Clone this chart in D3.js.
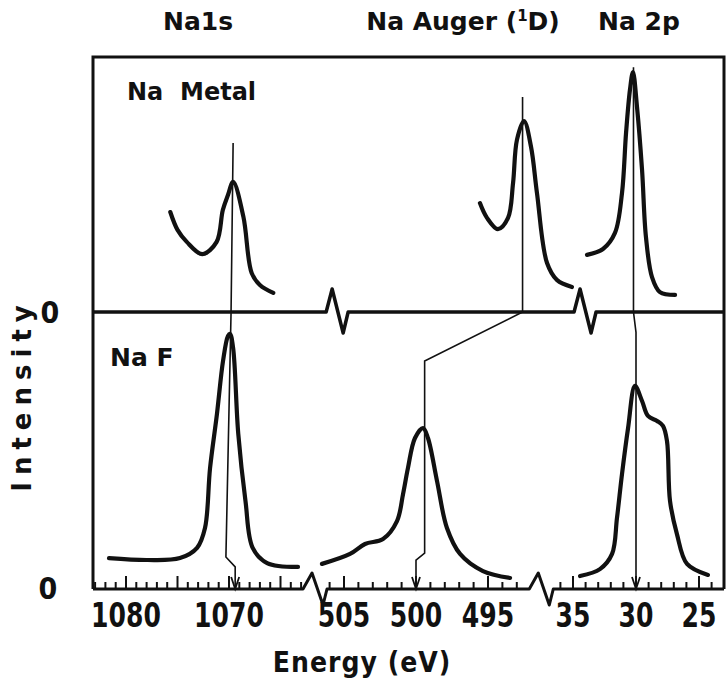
<!DOCTYPE html>
<html>
<head>
<meta charset="utf-8">
<script src="https://cdn.jsdelivr.net/npm/d3@7"></script>
<style>
  body { margin: 0; background: #fff; }
  text { font-family: "DejaVu Sans", sans-serif; font-weight: bold; fill: #111; }
  .cond { font-family: "DejaVu Sans Condensed", "DejaVu Sans", sans-serif; }
</style>
</head>
<body>
<div id="chart"></div>
<script>

/* data: [energy eV, relative intensity] */
const metal1s = [[1075.7,0.392],[1075.0,0.322],[1074.1,0.275],[1072.6,0.227],[1071.2,0.275],[1070.6,0.40],
  [1070.1,0.459],[1069.6,0.51],[1068.6,0.373],[1067.8,0.153],[1067.0,0.106],[1065.7,0.075]];
const metalAuger = [[495.56,0.427],[495.07,0.369],[494.31,0.325],[493.61,0.369],[493.26,0.506],[492.99,0.675],
  [492.5,0.749],[492.01,0.647],[491.6,0.467],[490.9,0.192],[490.2,0.125],[489.17,0.098]];
const metal2p = [[33.89,0.224],[32.62,0.247],[31.67,0.31],[31.11,0.467],[30.79,0.702],[30.48,0.871],
  [30.24,0.941],[29.92,0.804],[29.52,0.557],[29.21,0.294],[28.73,0.137],[28.1,0.078],[26.9,0.067]];

const naf1s = [[1081.65,0.112],[1077.96,0.105],[1074.76,0.112],[1073.1,0.149],[1072.33,0.221],[1071.84,0.438],
  [1071.17,0.634],[1070.58,0.826],[1070.1,0.917],[1069.9,0.924],[1069.6,0.873],[1069.1,0.562],[1068.4,0.319],
  [1067.7,0.149],[1066.3,0.094],[1063.3,0.08]];
const nafAuger = [[506.53,0.091],[504.58,0.127],[503.54,0.163],[502.29,0.181],[501.32,0.246],[500.9,0.344],
  [500.56,0.438],[500.07,0.547],[499.51,0.583],[499.17,0.547],[498.54,0.391],[497.85,0.221],[496.94,0.127],
  [495.35,0.065],[493.47,0.04]];
const naf2p = [[34.44,0.047],[32.86,0.072],[31.9,0.127],[31.51,0.257],[31.11,0.417],[30.63,0.583],[30.08,0.736],
  [29.52,0.681],[29.05,0.627],[28.33,0.609],[27.86,0.591],[27.54,0.536],[27.3,0.319],[26.75,0.199],
  [25.95,0.091],[24.29,0.051]];

/* tick labels per axis segment */
const seg1Labels = [1080, 1070];
const seg2Labels = [505, 500, 495];
const seg3Labels = [35, 30, 25];
const seg1Ticks = d3.range(1083, 1062, -1);
const seg2Ticks = d3.range(506, 492, -1);
const seg3Ticks = d3.range(36, 23, -1);

/* axis breaks, as energy in the segment on their left */
const lowerBreaks = [[0, 1061.65], [1, 491.3]];
const upperBreaks = [[0, 1059.5], [1, 488.26]];

/* peak markers: [segment, energy, panel, intensity] */
const marker1s = [[0,1069.6,"up",0.663],[0,1069.8,"up",0],[0,1070.3,"lo",0.116],[0,1069.4,"lo",0.08],[0,1069.4,"lo",0]];
const markerAuger = [[1,492.6,"up",0.843],[1,492.6,"up",0],[1,499.4,"lo",0.826],[1,499.4,"lo",0.13],[1,500.0,"lo",0.105],[1,500.0,"lo",0]];
const marker2p = [[2,30.2,"up",0.96],[2,30.2,"up",0],[2,30.0,"lo",0.93],[2,30.0,"lo",0]];

const width = 728;
const height = 682;
const frame = {left: 93, right: 724, top: 57, mid: 312, bottom: 589};

const svg = d3.select("#chart")
  .append("svg")
  .attr("width", width)
  .attr("height", height);

/* scales: one per broken segment, one per panel */
const xSeg = [
  d3.scaleLinear().domain([1080, 1070]).range([126, 229]),
  d3.scaleLinear().domain([500, 495]).range([416, 488]),
  d3.scaleLinear().domain([30, 25]).range([636, 699])
];
const yUp = d3.scaleLinear().domain([0, 1]).range([frame.mid, frame.top]);
const yLo = d3.scaleLinear().domain([0, 1]).range([frame.bottom, frame.mid + 1]);

/* frame */
svg.append("path")
  .attr("d", `M${frame.left},${frame.bottom} V${frame.top} H${frame.right} V${frame.bottom}`)
  .attr("fill", "none").attr("stroke", "#111").attr("stroke-width", 3);

/* broken horizontal lines */
function brokenLine(y, breaks, shape) {
  const pts = [[frame.left, y]];
  breaks.forEach(function(b) {
    const bx = xSeg[b[0]](b[1]);
    shape.forEach(function(s) { pts.push([bx + s[0], y + s[1]]); });
  });
  pts.push([frame.right, y]);
  return d3.line()(pts);
}
svg.append("path")
  .attr("d", brokenLine(frame.mid, upperBreaks, [[-11,0],[-5,-23],[6,21],[11,0]]))
  .attr("fill", "none").attr("stroke", "#111").attr("stroke-width", 3.5).attr("stroke-linejoin", "round");
svg.append("path")
  .attr("d", brokenLine(frame.bottom, lowerBreaks, [[-12,0],[-3,-16],[8,16],[12,0]]))
  .attr("fill", "none").attr("stroke", "#111").attr("stroke-width", 3).attr("stroke-linejoin", "round");

/* ticks */
[seg1Ticks, seg2Ticks, seg3Ticks].forEach(function(ticks, i) {
  svg.selectAll(null)
    .data(ticks)
    .enter()
    .append("line")
    .attr("x1", d => xSeg[i](d)).attr("x2", d => xSeg[i](d))
    .attr("y1", frame.bottom)
    .attr("y2", d => d % 5 === 0 ? frame.bottom - 13 : frame.bottom - 7)
    .attr("stroke", "#111").attr("stroke-width", 2);
});

/* tick labels, tall and narrow like the hand lettering */
[seg1Labels, seg2Labels, seg3Labels].forEach(function(labels, i) {
  svg.selectAll(null)
    .data(labels)
    .enter()
    .append("text")
    .attr("class", "cond")
    .attr("transform", d => `translate(${xSeg[i](d)},627) scale(0.82,1)`)
    .attr("text-anchor", "middle")
    .attr("font-size", 34)
    .text(d => d);
});

/* spectra */
const panels = {up: yUp, lo: yLo};
const spectra = [
  [metal1s, 0, "up"], [metalAuger, 1, "up"], [metal2p, 2, "up"],
  [naf1s, 0, "lo"], [nafAuger, 1, "lo"], [naf2p, 2, "lo"]
];
spectra.forEach(function(s) {
  const line = d3.line()
    .x(d => xSeg[s[1]](d[0]))
    .y(d => panels[s[2]](d[1]))
    .curve(d3.curveCatmullRom.alpha(0.5));
  svg.append("path")
    .attr("d", line(s[0]))
    .attr("fill", "none").attr("stroke", "#111")
    .attr("stroke-width", 4.2).attr("stroke-linecap", "round").attr("stroke-linejoin", "round");
});

/* marker lines with arrow at the axis */
[marker1s, markerAuger, marker2p].forEach(function(m) {
  const pts = m.map(d => [xSeg[d[0]](d[1]), panels[d[2]](d[3])]);
  svg.append("path")
    .attr("d", d3.line()(pts))
    .attr("fill", "none").attr("stroke", "#111").attr("stroke-width", 1.6);
  const tip = pts[pts.length - 1];
  svg.append("path")
    .attr("d", `M${tip[0] - 4},${tip[1] - 12} L${tip[0]},${tip[1]} L${tip[0] + 4},${tip[1] - 12}`)
    .attr("fill", "none").attr("stroke", "#111").attr("stroke-width", 1.8);
});

/* titles and labels */
svg.append("text").attr("x", 198).attr("y", 30).attr("text-anchor", "middle").attr("font-size", 25).text("Na1s");
const auger = svg.append("text").attr("x", 463).attr("y", 30).attr("text-anchor", "middle").attr("font-size", 25);
auger.append("tspan").text("Na Auger (");
auger.append("tspan").attr("font-size", 15).attr("dy", -9).text("1");
auger.append("tspan").attr("dy", 9).text("D)");
svg.append("text").attr("x", 639).attr("y", 30).attr("text-anchor", "middle").attr("font-size", 25).text("Na 2p");

svg.append("text").attr("x", 127).attr("y", 100).attr("font-size", 24).attr("xml:space", "preserve").text("Na  Metal");
svg.append("text").attr("x", 110).attr("y", 366).attr("font-size", 25).text("Na F");

svg.append("text").attr("class", "cond").attr("x", 50).attr("y", frame.mid + 11).attr("text-anchor", "middle").attr("font-size", 30).text("0");
svg.append("text").attr("class", "cond").attr("x", 48).attr("y", frame.bottom + 10).attr("text-anchor", "middle").attr("font-size", 30).text("0");

svg.append("text")
  .attr("transform", "translate(31,395) rotate(-90)")
  .attr("text-anchor", "middle").attr("font-size", 26).attr("letter-spacing", 7)
  .text("Intensity");
svg.append("text")
  .attr("class", "cond")
  .attr("x", 362).attr("y", 672).attr("text-anchor", "middle").attr("font-size", 28).attr("letter-spacing", 1)
  .text("Energy (eV)");

</script>
</body>
</html>
